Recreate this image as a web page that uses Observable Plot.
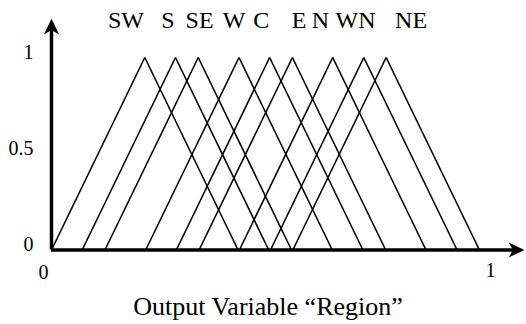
<!DOCTYPE html>
<html>
<head>
<meta charset="utf-8">
<script src="https://cdn.jsdelivr.net/npm/d3@7"></script>
<script src="https://cdn.jsdelivr.net/npm/@observablehq/plot@0.6"></script>
<style>
  body { margin: 0; background: #fff; }
  #chart svg { display: block; }
</style>
</head>
<body>
<div id="chart"></div>
<script>
// Fuzzy output variable "Region": nine triangular membership functions
const regions = ["SW", "S", "SE", "W", "C", "E", "N", "WN", "NE"];
const peaks = [0.213, 0.283, 0.335, 0.428, 0.498, 0.550, 0.642, 0.713, 0.764];
const halfWidth = 0.213;
// where each region name sits along the top
const labelX = [0.170, 0.266, 0.338, 0.417, 0.479, 0.565, 0.614, 0.694, 0.821];
const yTicks = [0, 0.5, 1];
const xTicks = [0, 1];
const xTitle = "Output Variable \u201CRegion\u201D";

// triangle vertices: foot, peak (membership 1), foot
const membership = regions.flatMap((name, i) => [
  {name, x: peaks[i] - halfWidth, y: 0},
  {name, x: peaks[i], y: 1},
  {name, x: peaks[i] + halfWidth, y: 0}
]);

// filled, notched arrowhead pointing up with its tip at the anchor
const arrowHead = {
  draw(context, size) {
    const r = Math.sqrt(size / Math.PI);
    context.moveTo(0, 0);
    context.lineTo(0.47 * r, r);
    context.lineTo(0, 0.72 * r);
    context.lineTo(-0.47 * r, r);
    context.closePath();
  }
};

const serif = "'Liberation Serif', 'Times New Roman', serif";

const chart = Plot.plot({
  width: 526,
  height: 324,
  marginLeft: 51,
  marginRight: 37,
  marginTop: 57,
  marginBottom: 74.5,
  x: {domain: [0, 1], axis: null},
  y: {domain: [0, 1], axis: null},
  style: {fontFamily: serif, background: "white", color: "black", overflow: "visible"},
  marks: [
    Plot.line(membership, {
      x: "x", y: "y", z: "name",
      stroke: "black", strokeWidth: 1.6,
      strokeLinejoin: "miter", strokeLinecap: "butt"
    }),
    // axes with arrowheads
    Plot.ruleY([0], {x1: 0, x2: 1.06, stroke: "black", strokeWidth: 3.5}),
    Plot.ruleX([0], {y1: 0, y2: 1.16, stroke: "black", strokeWidth: 3.5}),
    Plot.dot([{x: 0, y: 1.203}], {x: "x", y: "y", symbol: arrowHead, r: 16, fill: "black", stroke: "none"}),
    Plot.dot([{x: 1.08, y: 0}], {x: "x", y: "y", symbol: arrowHead, r: 16, rotate: 90, fill: "black", stroke: "none"}),
    // tick labels
    Plot.text(yTicks, {x: 0, y: d => d, text: d => String(d), textAnchor: "end", dx: -18, dy: -5, fontSize: 20}),
    Plot.text([xTicks[0]], {x: d => d, y: 0, text: d => String(d), dx: -8, dy: 23, fontSize: 20}),
    Plot.text([xTicks[1]], {x: d => d, y: 0, text: d => String(d), dx: 1, dy: 21, fontSize: 20}),
    // region names
    Plot.text(regions, {x: (d, i) => labelX[i], text: d => d, frameAnchor: "top", lineAnchor: "bottom", dy: -30, fontSize: 24}),
    // axis title
    Plot.text([xTitle], {frameAnchor: "bottom", lineAnchor: "bottom", dx: -2.5, dy: 65, fontSize: 26})
  ]
});

document.getElementById("chart").append(chart);
</script>
</body>
</html>
